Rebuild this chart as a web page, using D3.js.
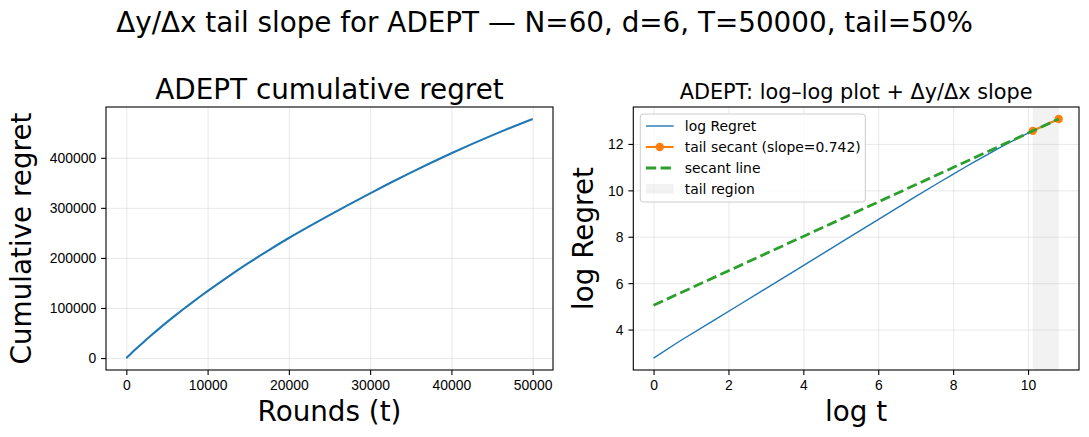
<!DOCTYPE html>
<html>
<head>
<meta charset="utf-8">
<script src="https://cdn.jsdelivr.net/npm/d3@7"></script>
<style>
	body { margin: 0; background: #fff; }
	svg { font-family: "DejaVu Sans", sans-serif; }
	.tick text { font-size: 13.9px; fill: #000; }
</style>
</head>
<body>
<svg id="chart" width="1089" height="437"></svg>
<script>

// ===========
// DATA
// ===========

// Rounds sampled along the run, and the cumulative regret read at each
const rounds = [1, 2, 5, 10, 20, 50, 100, 200, 500, 1000, 2000, 3000, 4000, 5000, 6000, 7000, 8000, 9000,
	10000, 12500, 15000, 17500, 20000, 22500, 25000, 27500, 30000, 32500, 35000, 37500, 40000, 42500, 45000, 47500, 50000];
const regret = [16, 33, 81, 161, 319, 790, 1570, 3120, 7730, 15400, 30200, 44500, 58300, 71700, 84700, 97400, 109800, 121900,
	133750, 162250, 189500, 215250, 239750, 263000, 285550, 307550, 329050, 350050, 370400, 390050, 409050, 427300, 444800, 461550, 477600];

const T = 50000;
const tailFrac = 0.5;

const leftXTicks = [0, 10000, 20000, 30000, 40000, 50000];
const leftYTicks = [0, 100000, 200000, 300000, 400000];
const rightXTicks = [0, 2, 4, 6, 8, 10];
const rightYTicks = [4, 6, 8, 10, 12];

const colors = { blue: "#1f77b4", orange: "#ff7f0e", green: "#2ca02c" };

// ===========
// HELPERS
// ===========

// matplotlib style 5% padding on a domain
function padded(ext) {
	let m = (ext[1] - ext[0]) * 0.05;
	return [ext[0] - m, ext[1] + m];
}

const svg = d3.select("#chart");
svg.append("rect").attr("width", 1089).attr("height", 437).attr("fill", "#fff");

function drawAxes(box, x, y, xTicks, yTicks) {

	const g = svg.append("g");

	// gridlines
	g.append("g")
		.attr("transform", "translate(0," + box.bottom + ")")
		.call(d3.axisBottom(x).tickValues(xTicks).tickSize(-(box.bottom - box.top)).tickFormat(""))
		.call(s => s.select(".domain").remove())
		.selectAll("line").attr("stroke", "#b0b0b0").attr("stroke-opacity", 0.35).attr("stroke-width", 0.8);

	g.append("g")
		.attr("transform", "translate(" + box.left + ",0)")
		.call(d3.axisLeft(y).tickValues(yTicks).tickSize(-(box.right - box.left)).tickFormat(""))
		.call(s => s.select(".domain").remove())
		.selectAll("line").attr("stroke", "#b0b0b0").attr("stroke-opacity", 0.35).attr("stroke-width", 0.8);

	return g;
}

function drawFrame(box, x, y, xTicks, yTicks) {

	const g = svg.append("g");

	let xa = g.append("g")
		.attr("transform", "translate(0," + box.bottom + ")")
		.call(d3.axisBottom(x).tickValues(xTicks).tickSize(4.9).tickPadding(4.9).tickFormat(d3.format("d")));
	xa.select(".domain").remove();
	xa.selectAll("line").attr("stroke", "#000").attr("stroke-width", 1.1);

	let ya = g.append("g")
		.attr("transform", "translate(" + box.left + ",0)")
		.call(d3.axisLeft(y).tickValues(yTicks).tickSize(4.9).tickPadding(4.9).tickFormat(d3.format("d")));
	ya.select(".domain").remove();
	ya.selectAll("line").attr("stroke", "#000").attr("stroke-width", 1.1);
	ya.selectAll("text").attr("dy", "0.35em");

	g.append("rect")
		.attr("x", box.left).attr("y", box.top)
		.attr("width", box.right - box.left).attr("height", box.bottom - box.top)
		.attr("fill", "none").attr("stroke", "#000").attr("stroke-width", 1.1);
}

// ============
// SUPTITLE
// ============

svg.append("text")
	.attr("x", 544.5).attr("y", 32)
	.attr("text-anchor", "middle")
	.attr("font-size", 27.8)
	.text("Δy/Δx tail slope for ADEPT — N=60, d=6, T=50000, tail=50%");

// ============
// LEFT PANEL: cumulative regret
// ============

const boxL = { left: 106, right: 553, top: 107, bottom: 370 };

const xL = d3.scaleLinear()
	.domain(padded([0, d3.max(rounds)]))
	.range([boxL.left, boxL.right]);

const yL = d3.scaleLinear()
	.domain(padded([0, d3.max(regret)]))
	.range([boxL.bottom, boxL.top]);

drawAxes(boxL, xL, yL, leftXTicks, leftYTicks);

svg.append("path")
	.datum(rounds.map((t, i) => [t, regret[i]]))
	.attr("fill", "none")
	.attr("stroke", colors.blue)
	.attr("stroke-width", 2.1)
	.attr("d", d3.line().x(d => xL(d[0])).y(d => yL(d[1])).curve(d3.curveMonotoneX));

drawFrame(boxL, xL, yL, leftXTicks, leftYTicks);

svg.append("text")
	.attr("x", (boxL.left + boxL.right) / 2).attr("y", 98.7)
	.attr("text-anchor", "middle").attr("font-size", 27.8)
	.text("ADEPT cumulative regret");

svg.append("text")
	.attr("x", (boxL.left + boxL.right) / 2).attr("y", 421)
	.attr("text-anchor", "middle").attr("font-size", 27.8)
	.text("Rounds (t)");

svg.append("text")
	.attr("text-anchor", "middle").attr("font-size", 27.8)
	.attr("transform", "translate(31," + ((boxL.top + boxL.bottom) / 2) + ")rotate(-90)")
	.text("Cumulative regret");

// ============
// RIGHT PANEL: log-log plot with tail secant
// ============

const logT = rounds.map(t => Math.log(t));
const logR = regret.map(r => Math.log(r));

const iTail = rounds.indexOf(T * (1 - tailFrac));
const iEnd = rounds.length - 1;
const slope = (logR[iEnd] - logR[iTail]) / (logT[iEnd] - logT[iTail]);

const boxR = { left: 633.3, right: 1079, top: 107, bottom: 370 };

const xR = d3.scaleLinear()
	.domain(padded(d3.extent(logT)))
	.range([boxR.left, boxR.right]);

const yR = d3.scaleLinear()
	.domain(padded(d3.extent(logR)))
	.range([boxR.bottom, boxR.top]);

// tail region
svg.append("rect")
	.attr("x", xR(logT[iTail])).attr("y", boxR.top)
	.attr("width", xR(logT[iEnd]) - xR(logT[iTail]))
	.attr("height", boxR.bottom - boxR.top)
	.attr("fill", "#808080").attr("fill-opacity", 0.1);

drawAxes(boxR, xR, yR, rightXTicks, rightYTicks);

svg.append("path")
	.datum(logT.map((v, i) => [v, logR[i]]))
	.attr("fill", "none")
	.attr("stroke", colors.blue)
	.attr("stroke-width", 1.4)
	.attr("d", d3.line().x(d => xR(d[0])).y(d => yR(d[1])));

// tail secant with its two end points
const secantPts = [[logT[iTail], logR[iTail]], [logT[iEnd], logR[iEnd]]];

svg.append("path")
	.datum(secantPts)
	.attr("fill", "none")
	.attr("stroke", colors.orange)
	.attr("stroke-width", 2.1)
	.attr("d", d3.line().x(d => xR(d[0])).y(d => yR(d[1])));

svg.append("g").selectAll("circle")
	.data(secantPts)
	.enter()
	.append("circle")
		.attr("cx", d => xR(d[0]))
		.attr("cy", d => yR(d[1]))
		.attr("r", 4.2)
		.attr("fill", colors.orange);

// secant line extended over the full range
const x0 = d3.min(logT), x1 = d3.max(logT);
const secantLine = [[x0, logR[iEnd] + slope * (x0 - logT[iEnd])], [x1, logR[iEnd] + slope * (x1 - logT[iEnd])]];

svg.append("path")
	.datum(secantLine)
	.attr("fill", "none")
	.attr("stroke", colors.green)
	.attr("stroke-width", 2.8)
	.attr("stroke-dasharray", "10.3,4.4")
	.attr("d", d3.line().x(d => xR(d[0])).y(d => yR(d[1])));

drawFrame(boxR, xR, yR, rightXTicks, rightYTicks);

svg.append("text")
	.attr("x", (boxR.left + boxR.right) / 2).attr("y", 98.7)
	.attr("text-anchor", "middle").attr("font-size", 20.8)
	.text("ADEPT: log–log plot + Δy/Δx slope");

svg.append("text")
	.attr("x", (boxR.left + boxR.right) / 2).attr("y", 421)
	.attr("text-anchor", "middle").attr("font-size", 27.8)
	.text("log t");

svg.append("text")
	.attr("text-anchor", "middle").attr("font-size", 27.8)
	.attr("transform", "translate(593," + ((boxR.top + boxR.bottom) / 2) + ")rotate(-90)")
	.text("log Regret");

// ============
// LEGEND
// ============

const legendItems = [
	{ label: "log Regret", kind: "line", color: colors.blue, width: 1.4 },
	{ label: "tail secant (slope=" + slope.toFixed(3) + ")", kind: "marker", color: colors.orange, width: 2.1 },
	{ label: "secant line", kind: "dash", color: colors.green, width: 2.8 },
	{ label: "tail region", kind: "patch", color: "#808080" }
];

const lg = svg.append("g").attr("transform", "translate(640.3,114)");

lg.append("rect")
	.attr("width", 225).attr("height", 88)
	.attr("rx", 3).attr("ry", 3)
	.attr("fill", "#fff").attr("fill-opacity", 0.8)
	.attr("stroke", "#cccccc").attr("stroke-width", 1);

legendItems.forEach(function(item, i) {

	let cy = 12 + i * 21;
	let row = lg.append("g");

	if (item.kind === "patch") {
		row.append("rect")
			.attr("x", 5.6).attr("y", cy - 5).attr("width", 27.8).attr("height", 9.7)
			.attr("fill", item.color).attr("fill-opacity", 0.1);
	} else {
		row.append("line")
			.attr("x1", 5.6).attr("x2", 33.4).attr("y1", cy).attr("y2", cy)
			.attr("stroke", item.color).attr("stroke-width", item.width)
			.attr("stroke-dasharray", item.kind === "dash" ? "10.3,4.4" : null);
		if (item.kind === "marker") {
			row.append("circle").attr("cx", 19.5).attr("cy", cy).attr("r", 4.2).attr("fill", item.color);
		}
	}

	row.append("text")
		.attr("x", 44.5).attr("y", cy).attr("dy", "0.35em")
		.attr("font-size", 13.9)
		.text(item.label);
});

</script>
</body>
</html>
